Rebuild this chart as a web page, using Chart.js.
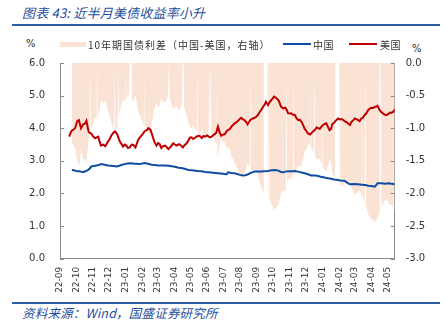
<!DOCTYPE html>
<html>
<head>
<meta charset="utf-8">
<script src="https://cdn.jsdelivr.net/npm/chart.js@4.4.0/dist/chart.umd.min.js"></script>
<style>
  body { margin: 0; width: 445px; height: 327px; background: #fff; position: relative; overflow: hidden;
         font-family: "Noto Sans CJK SC", sans-serif; }
  .abs { position: absolute; white-space: nowrap; }
  #title { left: 22px; top: 3px; font-size: 13px; font-style: italic; color: #1F4E9E; letter-spacing: 0.2px; }
  .rule { height: 2px; background: #2A5CAA; left: 12px; width: 428px; }
  #source { left: 22px; top: 303px; font-size: 12.5px; font-style: italic; color: #1F4E9E; letter-spacing: 0.2px; }
  .leg { top: 37px; font-size: 10px; color: #333; letter-spacing: 1px; }
  .unit { font-family: "DejaVu Sans", sans-serif; font-size: 10px; color: #333; }
  #chartBox { left: 0; top: 42px; width: 445px; height: 258px; }
</style>
</head>
<body>
<div id="title" class="abs">图表 43:  近半月美债收益率小升</div>
<div class="abs rule" style="top:24px"></div>

<div class="abs unit" style="left:26px; top:38px">%</div>
<div class="abs unit" style="left:412px; top:43px">%</div>

<div id="chartBox" class="abs"><canvas id="chart" width="445" height="258"></canvas></div>

<div class="abs" style="left:60px; top:42px; width:26px; height:5px; background:#FAE3D5"></div>
<div class="abs leg" style="left:88px">10年期国债利差（中国-美国，右轴）</div>
<div class="abs" style="left:283px; top:43px; width:28px; height:2px; background:#0D4CA3"></div>
<div class="abs leg" style="left:313px; letter-spacing:0.5px">中国</div>
<div class="abs" style="left:349px; top:43px; width:28px; height:2px; background:#C00000"></div>
<div class="abs leg" style="left:380px; letter-spacing:0.5px">美国</div>

<div class="abs rule" style="top:302px"></div>
<div id="source" class="abs">资料来源：Wind，国盛证券研究所</div>

<script>
// x values are days counted from 2022-09-01
const monthLabels = ['22-09','22-10','22-11','22-12','23-01','23-02','23-03','23-04','23-05','23-06','23-07',
  '23-08','23-09','23-10','23-11','23-12','24-01','24-02','24-03','24-04','24-05']
const labelDays = [15,45,76,106,137,168,196,227,257,288,318,349,380,410,441,471,502,533,562,593,623]

// 美国10年期国债收益率 (%)
const usYield = [[32,3.74],[36,3.91],[40,3.96],[43,4.00],[47,4.22],[50,4.25],[54,4.00],[58,4.12],[61,4.14],[64,4.23],
  [68,3.90],[70,3.86],[73,3.84],[76,3.76],[80,3.69],[83,3.72],[86,3.74],[88,3.62],[91,3.47],[95,3.50],[99,3.45],
  [104,3.59],[107,3.66],[110,3.77],[114,3.86],[117,3.90],[121,3.82],[126,3.59],[129,3.52],[132,3.44],[135,3.50],
  [138,3.47],[141,3.40],[144,3.41],[148,3.50],[151,3.49],[155,3.41],[158,3.55],[160,3.64],[163,3.71],[166,3.77],
  [169,3.83],[172,3.91],[176,3.94],[179,4.00],[183,3.95],[186,3.80],[188,3.69],[191,3.55],[194,3.47],[197,3.55],
  [200,3.51],[203,3.39],[206,3.45],[210,3.47],[213,3.42],[216,3.36],[219,3.41],[222,3.47],[225,3.54],[228,3.50],
  [231,3.47],[234,3.50],[237,3.51],[240,3.46],[243,3.41],[246,3.48],[250,3.54],[253,3.62],[256,3.71],[259,3.72],
  [262,3.67],[265,3.70],[268,3.74],[271,3.76],[274,3.77],[278,3.70],[281,3.76],[284,3.74],[288,3.78],[293,3.72],
  [297,3.75],[302,3.82],[305,3.86],[308,4.05],[311,3.88],[314,3.77],[317,3.80],[321,3.82],[324,3.90],[327,3.95],
  [330,3.97],[333,4.05],[336,4.10],[339,4.15],[342,4.18],[345,4.22],[348,4.28],[351,4.32],[354,4.28],[357,4.25],
  [360,4.20],[363,4.12],[366,4.20],[369,4.27],[373,4.30],[376,4.32],[379,4.35],[382,4.40],[386,4.51],[389,4.58],
  [392,4.66],[395,4.73],[397,4.81],[401,4.71],[404,4.80],[407,4.86],[410,4.92],[412,4.97],[415,4.94],[418,4.90],
  [421,4.84],[425,4.66],[429,4.61],[433,4.63],[436,4.55],[438,4.46],[441,4.45],[444,4.46],[447,4.42],[451,4.40],
  [454,4.30],[457,4.25],[460,4.26],[463,4.20],[466,4.10],[469,3.98],[472,3.92],[475,3.84],[479,3.81],[482,3.86],
  [485,3.91],[488,3.95],[491,4.02],[494,4.00],[497,3.98],[500,4.05],[503,4.10],[506,4.13],[509,4.15],[512,4.05],
  [515,3.94],[518,3.98],[520,4.12],[523,4.16],[526,4.22],[529,4.27],[531,4.30],[534,4.27],[537,4.28],[540,4.26],
  [543,4.22],[547,4.18],[551,4.12],[553,4.10],[556,4.20],[559,4.24],[562,4.30],[565,4.28],[568,4.25],[571,4.22],
  [574,4.30],[577,4.32],[580,4.40],[583,4.45],[587,4.56],[590,4.60],[593,4.63],[596,4.62],[599,4.66],[602,4.66],
  [604,4.69],[606,4.63],[608,4.56],[611,4.50],[614,4.46],[617,4.42],[620,4.40],[624,4.43],[627,4.48],[630,4.47],
  [633,4.50],[635,4.54],[636,4.60]]

// 中国10年期国债收益率 (%)
const cnYield = [[37,2.72],[41,2.71],[45,2.69],[50,2.68],[54,2.67],[58,2.65],[62,2.68],[65,2.70],[68,2.73],[71,2.78],
  [73,2.83],[77,2.84],[80,2.85],[83,2.86],[88,2.88],[92,2.90],[96,2.89],[100,2.87],[104,2.86],[110,2.85],[115,2.84],
  [120,2.83],[125,2.85],[130,2.88],[135,2.90],[140,2.92],[145,2.93],[150,2.92],[155,2.91],[160,2.90],[166,2.91],
  [172,2.93],[178,2.91],[185,2.88],[191,2.87],[197,2.86],[203,2.86],[210,2.86],[217,2.85],[225,2.83],[230,2.81],
  [235,2.79],[240,2.78],[246,2.76],[253,2.72],[260,2.71],[266,2.70],[271,2.69],[278,2.68],[284,2.66],[290,2.65],
  [296,2.64],[302,2.63],[308,2.62],[314,2.61],[320,2.60],[324,2.59],[327,2.65],[333,2.63],[339,2.62],[345,2.59],
  [349,2.57],[352,2.56],[355,2.55],[359,2.56],[364,2.59],[370,2.64],[376,2.67],[382,2.67],[389,2.67],[392,2.68],
  [401,2.69],[407,2.71],[414,2.72],[420,2.70],[425,2.66],[429,2.65],[433,2.67],[440,2.68],[445,2.68],[451,2.69],
  [457,2.67],[463,2.64],[469,2.62],[475,2.59],[481,2.55],[488,2.55],[492,2.54],[497,2.52],[503,2.50],[508,2.48],
  [512,2.47],[518,2.45],[523,2.43],[528,2.42],[535,2.40],[540,2.39],[543,2.39],[547,2.34],[553,2.28],[560,2.29],
  [568,2.28],[575,2.27],[581,2.26],[587,2.24],[593,2.23],[599,2.21],[602,2.26],[604,2.31],[611,2.31],[618,2.30],
  [625,2.31],[630,2.30],[636,2.28]]

// 10年期国债利差 中国-美国 (%, right axis); 0 on days one market was closed
const spread = [[37,-1.21],[40,-1.26],[43,-1.30],[47,-1.53],[51,-1.57],[54,-1.33],[58,-1.47],[61,-1.47],[64,-1.53],
  [68,-1.17],[70,-1.10],[71,0],[72,-1.04],[76,-0.94],[80,-0.84],[83,-0.86],[84,0],[85,-0.88],[88,-0.74],[91,-0.57],
  [95,-0.61],[99,-0.58],[104,-0.73],[107,-0.80],[110,-0.92],[115,-1.02],[116,0],[117,-1.06],[121,-0.99],[122,-0.90],
  [123,0],[124,-0.82],[126,-0.74],[129,-0.64],[132,-0.56],[135,-0.60],[136,-0.56],[137,0],[138,-0.56],[141,-0.48],
  [143,-0.50],[144,0],[148,0],[149,-0.58],[152,-0.57],[155,-0.50],[158,-0.64],[160,-0.74],[163,-0.80],[166,-0.86],
  [169,-0.92],[171,-0.97],[172,0],[173,-0.99],[176,-1.02],[179,-1.09],[183,-1.06],[186,-0.92],[188,-0.81],[191,-0.68],
  [194,-0.60],[197,-0.69],[200,-0.65],[203,-0.53],[206,-0.59],[210,-0.61],[213,-0.56],[215,-0.52],[216,0],[217,-0.55],
  [218,0],[219,-0.56],[222,-0.63],[225,-0.71],[228,-0.68],[231,-0.66],[234,-0.71],[237,-0.72],[241,-0.66],[242,0],
  [244,0],[245,-0.68],[250,-0.79],[253,-0.90],[256,-0.98],[259,-1.00],[262,-0.96],[265,-1.00],[268,-1.04],[269,-1.05],
  [270,0],[271,-1.07],[274,-1.09],[278,-1.02],[281,-1.09],[284,-1.08],[288,-1.12],[290,-1.07],[291,0],[292,-1.07],
  [293,-1.07],[294,0],[295,0],[296,-1.10],[299,-1.14],[302,-1.19],[305,-1.24],[306,0],[307,-1.33],[308,-1.43],
  [311,-1.27],[314,-1.16],[317,-1.19],[321,-1.22],[324,-1.31],[327,-1.30],[330,-1.33],[333,-1.42],[336,-1.47],
  [339,-1.53],[342,-1.58],[345,-1.63],[348,-1.70],[351,-1.76],[354,-1.73],[357,-1.69],[360,-1.63],[363,-1.53],
  [367,-1.60],[368,0],[369,-1.64],[373,-1.64],[376,-1.65],[379,-1.68],[382,-1.73],[386,-1.84],[389,-1.91],[392,-1.98],
  [393,0],[400,0],[401,-2.02],[402,-2.03],[403,0],[404,-2.10],[407,-2.15],[410,-2.21],[412,-2.25],[415,-2.23],
  [418,-2.20],[421,-2.15],[425,-2.00],[429,-1.96],[433,-1.96],[434,-1.92],[435,0],[436,-1.87],[438,-1.78],[441,-1.77],
  [444,-1.78],[447,-1.73],[448,0],[449,-1.72],[451,-1.71],[454,-1.62],[457,-1.58],[460,-1.60],[463,-1.56],[466,-1.47],
  [469,-1.36],[472,-1.32],[475,-1.25],[479,-1.25],[480,0],[481,-1.30],[485,-1.36],[486,-1.38],[487,0],[488,-1.40],
  [491,-1.48],[494,-1.47],[497,-1.46],[500,-1.54],[501,0],[502,-1.58],[506,-1.64],[509,-1.68],[512,-1.58],[515,-1.48],
  [518,-1.53],[520,-1.68],[523,-1.73],[525,-1.78],[526,0],[533,0],[534,-1.87],[535,-1.87],[536,0],[537,-1.89],
  [540,-1.87],[543,-1.83],[547,-1.84],[551,-1.83],[553,-1.82],[556,-1.92],[559,-1.96],[562,-2.02],[565,-2.00],
  [568,-1.97],[571,-1.95],[574,-2.03],[575,0],[576,-2.05],[580,-2.15],[581,0],[582,0],[583,-2.20],[587,-2.32],
  [590,-2.37],[593,-2.40],[596,-2.40],[599,-2.45],[602,-2.40],[604,-2.38],[607,-2.31],[608,0],[610,0],[611,-2.19],
  [614,-2.15],[617,-2.12],[620,-2.10],[624,-2.12],[627,-2.18],[630,-2.17],[633,-2.20],[634,0],[635,-2.24],[636,-2.32]]

const axisColor = '#8a8a8a'
const tickFont = { family: 'DejaVu Sans', size: 10 }

const toPoints = (arr) => arr.map(p => ({ x: p[0], y: p[1] }))

// y axes have their tick marks pointing into the plot
const innerTicks = {
  id: 'innerTicks',
  afterDraw(chart) {
    const ctx = chart.ctx
    ctx.save()
    ctx.strokeStyle = axisColor
    ctx.lineWidth = 1
    ;['y', 'y2'].forEach(id => {
      const s = chart.scales[id]
      const x0 = id === 'y' ? s.right : s.left
      const dir = id === 'y' ? 1 : -1
      s.ticks.forEach(t => {
        const py = Math.round(s.getPixelForValue(t.value)) + 0.5
        ctx.beginPath()
        ctx.moveTo(x0, py)
        ctx.lineTo(x0 + dir * 4, py)
        ctx.stroke()
      })
    })
    ctx.restore()
  }
}

new Chart(document.getElementById('chart'), {
  type: 'line',
  data: {
    datasets: [{
      label: '中国',
      data: toPoints(cnYield),
      yAxisID: 'y',
      borderColor: '#0D4CA3',
      borderWidth: 2,
      pointRadius: 0,
      tension: 0,
      order: 0
    }, {
      label: '美国',
      data: toPoints(usYield),
      yAxisID: 'y',
      borderColor: '#C00000',
      borderWidth: 2,
      pointRadius: 0,
      tension: 0,
      order: 1
    }, {
      label: '10年期国债利差（中国-美国，右轴）',
      data: toPoints(spread),
      yAxisID: 'y2',
      borderWidth: 0,
      borderColor: 'rgba(0,0,0,0)',
      backgroundColor: '#FAE3D5',
      fill: 'end',
      pointRadius: 0,
      tension: 0,
      order: 2
    }]
  },
  options: {
    responsive: false,
    animation: false,
    devicePixelRatio: 1,
    layout: { padding: 0 },
    plugins: { legend: { display: false }, tooltip: { enabled: false } },
    scales: {
      x: {
        type: 'linear',
        min: 15,
        max: 636,
        afterBuildTicks: (scale) => { scale.ticks = labelDays.map(v => ({ value: v })) },
        afterFit: (scale) => { scale.height = 41.3 },
        grid: { display: false, drawTicks: false },
        border: { display: true, color: axisColor, width: 1 },
        ticks: {
          autoSkip: false,
          maxRotation: 90,
          minRotation: 90,
          padding: 8,
          color: '#333',
          font: { family: 'DejaVu Sans', size: 9 },
          callback: (v) => monthLabels[labelDays.indexOf(v)]
        }
      },
      y: {
        position: 'left',
        min: 0,
        max: 6,
        afterFit: (scale) => { scale.width = 60 },
        grid: { display: false, drawTicks: false },
        border: { display: true, color: axisColor, width: 1 },
        ticks: { stepSize: 1, padding: 15, color: '#333', font: tickFont, callback: (v) => v.toFixed(1) }
      },
      y2: {
        position: 'right',
        min: -3,
        max: 0,
        afterFit: (scale) => { scale.width = 50.3 },
        grid: { display: false, drawTicks: false },
        border: { display: true, color: axisColor, width: 1 },
        ticks: { stepSize: 0.5, padding: 11, color: '#333', font: tickFont, callback: (v) => v.toFixed(1) }
      }
    }
  },
  plugins: [innerTicks]
})
</script>
</body>
</html>
